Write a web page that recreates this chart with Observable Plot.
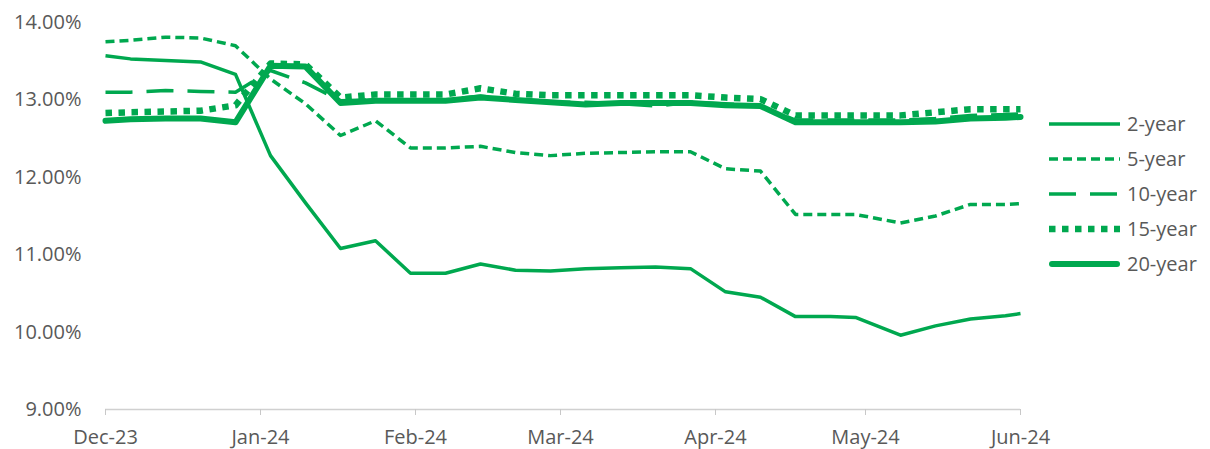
<!DOCTYPE html>
<html>
<head>
<meta charset="utf-8">
<script src="https://cdn.jsdelivr.net/npm/d3@7"></script>
<script src="https://cdn.jsdelivr.net/npm/@observablehq/plot@0.6"></script>
<style>
  html, body { margin: 0; padding: 0; background: #fff; }
  #wrap { position: relative; width: 1210px; height: 449px; font-family: "Open Sans", sans-serif; }
  #legend { position: absolute; left: 1049px; top: 106px; }
  .row { display: flex; align-items: center; height: 35px; }
  .row span { font-size: 20px; color: #595959; margin-left: 6px; line-height: 35px; }
</style>
</head>
<body>
<div id="wrap"><div id="legend"></div></div>
<script>
const dates = ["2023-12-01","2023-12-06","2023-12-13","2023-12-20","2023-12-27",
  "2024-01-03","2024-01-10","2024-01-17","2024-01-24","2024-01-31",
  "2024-02-07","2024-02-14","2024-02-21","2024-02-28",
  "2024-03-06","2024-03-13","2024-03-20","2024-03-27",
  "2024-04-03","2024-04-10","2024-04-17","2024-04-24","2024-04-29",
  "2024-05-08","2024-05-15","2024-05-22","2024-05-29","2024-06-01"];

const y2 = [13.57,13.53,13.51,13.49,13.33, 12.28,11.67,11.08,11.18,10.76,
  10.76,10.88,10.80,10.79, 10.82,10.83,10.84,10.82,
  10.52,10.45,10.20,10.20,10.19, 9.96,10.08,10.17,10.21,10.24];
const y5 = [13.75,13.77,13.81,13.80,13.70, 13.27,12.95,12.54,12.73,12.38,
  12.38,12.40,12.32,12.28, 12.31,12.32,12.33,12.33,
  12.11,12.08,11.52,11.52,11.52, 11.41,11.50,11.65,11.65,11.66];
const y10 = [13.10,13.10,13.12,13.11,13.10, 13.38,13.22,12.99,13.00,13.00,
  13.00,13.05,13.00,12.97, 12.97,12.95,12.92,12.97,
  12.95,12.92,12.74,12.74,12.74, 12.74,12.76,12.80,12.81,12.82];
const y15 = [12.83,12.84,12.85,12.86,12.93, 13.47,13.46,13.03,13.07,13.07,
  13.07,13.15,13.08,13.06, 13.06,13.06,13.06,13.06,
  13.03,13.01,12.80,12.80,12.80, 12.80,12.84,12.88,12.88,12.88];
const y20 = [12.73,12.75,12.76,12.76,12.71, 13.44,13.43,12.96,12.99,12.99,
  12.99,13.03,13.00,12.97, 12.94,12.96,12.96,12.96,
  12.93,12.92,12.71,12.71,12.71, 12.71,12.72,12.76,12.77,12.78];

const seriesNames = ["2-year","5-year","10-year","15-year","20-year"];
const seriesValues = [y2, y5, y10, y15, y20];
const yTicks = [9, 10, 11, 12, 13, 14];
const xTicks = ["2023-12-01","2024-01-01","2024-02-01","2024-03-01","2024-04-01","2024-05-01","2024-06-01"];

const green = "#00a84f";
const styles = {
  "2-year":  {strokeWidth: 3.5, dash: null, cap: "butt"},
  "5-year":  {strokeWidth: 3.5, dash: "9,5", cap: "butt"},
  "10-year": {strokeWidth: 3.5, dash: "27,14", cap: "butt"},
  "15-year": {strokeWidth: 6.5, dash: "6.5,6.5", cap: "butt"},
  "20-year": {strokeWidth: 6, dash: null, cap: "round"}
};

const parse = d3.utcParse("%Y-%m-%d");
const data = [];
seriesNames.forEach((name, i) => {
  seriesValues[i].forEach((v, j) => data.push({series: name, date: parse(dates[j]), value: v}));
});

const lineMarks = seriesNames.map(name => Plot.lineY(data.filter(d => d.series === name), {
  x: "date", y: "value", stroke: green,
  strokeWidth: styles[name].strokeWidth,
  strokeDasharray: styles[name].dash,
  strokeLinecap: styles[name].cap,
  strokeLinejoin: "round"
}));

const chart = Plot.plot({
  width: 1210,
  height: 449,
  marginLeft: 105,
  marginRight: 190,
  marginTop: 22,
  marginBottom: 40,
  style: {fontFamily: "Open Sans, sans-serif", fontSize: "20px", color: "#595959", background: "#fff", overflow: "visible"},
  x: {type: "utc", domain: [parse("2023-12-01"), parse("2024-06-01")]},
  y: {domain: [9, 14]},
  marks: [
    Plot.ruleY([9], {stroke: "#d0d0d0", strokeWidth: 1.5}),
    Plot.axisX({ticks: xTicks.map(parse), tickFormat: d3.utcFormat("%b-%y"), tickSize: 6,
      tickPadding: 14, stroke: "#c8c8c8", fill: "#595959", fontSize: 20, label: null}),
    Plot.axisY({ticks: yTicks, tickFormat: d => d.toFixed(2) + "%", tickSize: 0,
      tickPadding: 24, fill: "#595959", fontSize: 20, label: null}),
    ...lineMarks
  ]
});
document.getElementById("wrap").prepend(chart);

const legend = document.getElementById("legend");
seriesNames.forEach(name => {
  const s = styles[name];
  const row = document.createElement("div");
  row.className = "row";
  const ns = "http://www.w3.org/2000/svg";
  const svg = document.createElementNS(ns, "svg");
  svg.setAttribute("width", 72); svg.setAttribute("height", 12);
  const ln = document.createElementNS(ns, "line");
  const pad = s.cap === "round" ? 3 : 0;
  ln.setAttribute("x1", pad); ln.setAttribute("x2", 71 - pad);
  ln.setAttribute("y1", 6); ln.setAttribute("y2", 6);
  ln.setAttribute("stroke", green);
  ln.setAttribute("stroke-width", s.strokeWidth);
  ln.setAttribute("stroke-linecap", s.cap);
  if (s.dash) ln.setAttribute("stroke-dasharray", s.dash);
  svg.appendChild(ln);
  const sp = document.createElement("span");
  sp.textContent = name;
  row.appendChild(svg); row.appendChild(sp);
  legend.appendChild(row);
});
</script>
</body>
</html>
